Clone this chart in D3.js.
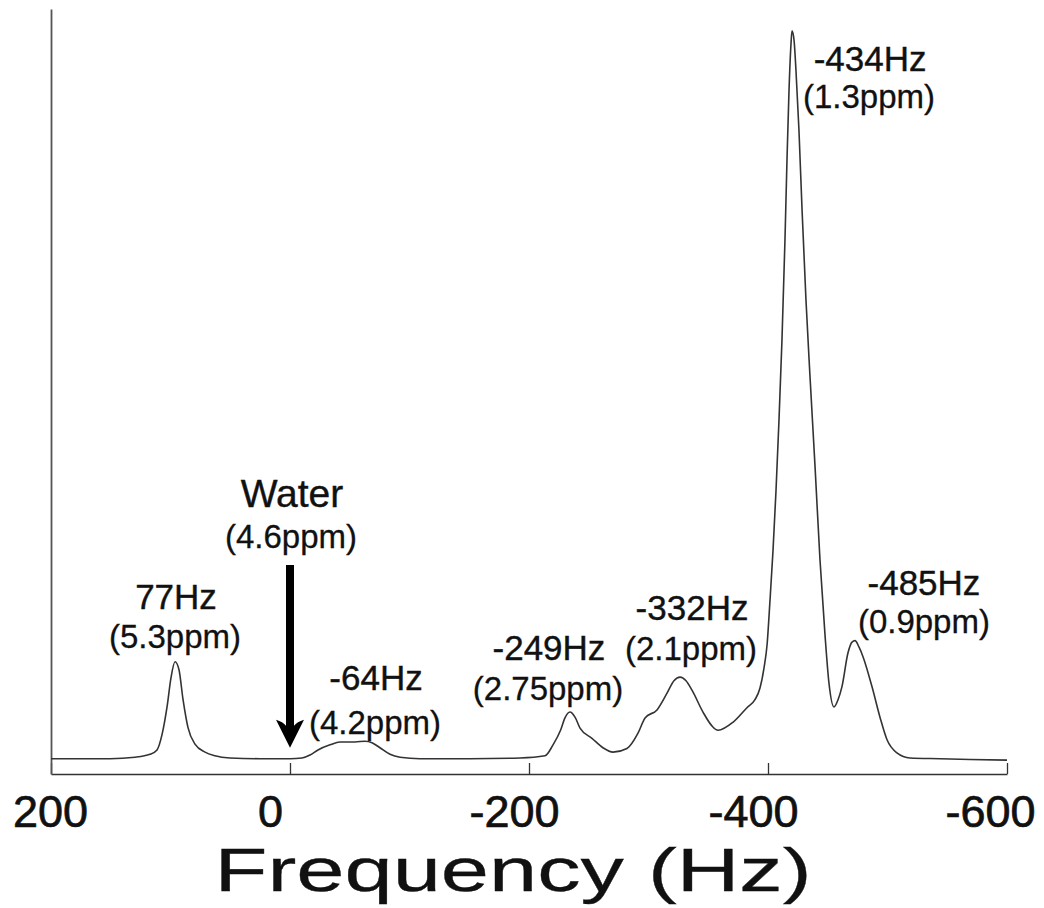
<!DOCTYPE html>
<html>
<head>
<meta charset="utf-8">
<script src="https://cdn.jsdelivr.net/npm/d3@7"></script>
<style>
  body { margin: 0; background: #fff; }
  svg { display: block; font-family: "Liberation Sans", Arial, sans-serif; }
</style>
</head>
<body>
<svg></svg>
<script>
// spectrum: frequency (Hz) and intensity (arbitrary, tallest peak = 100)
let freqHz = [200, 175.7, 150.6, 129.7, 117.2, 111.3, 107.1, 102.9, 99.6, 96.2,
  92.9, 89.5, 85.4, 79.5, 71.1, 62.8, 50.2, 25.1, 0, -10,
  -16.7, -23.4, -33.5, -41.8, -54.4, -62.8, -68.6, -75.3, -83.7, -92.1,
  -108.8, -150.6, -192.5, -213.4, -220.1, -226.4, -230.1, -234.3, -238.5, -242.7,
  -252.7, -261.9, -270.3, -282, -291.2, -297.1, -307.1, -315.5, -321.3, -326.4,
  -331.4, -336.4, -345.6, -353.1, -358.2, -370.7, -382.4, -389.1, -393.3, -396.7,
  -399.2, -401.7, -404.2, -406.7, -409.2, -411.7, -414.2, -415.9, -417.6, -419.2,
  -420.1, -421.8, -423.4, -425.9, -428.5, -431.8, -435.1, -439.3, -443.5, -447.7,
  -451, -455.2, -458.6, -461.9, -466.9, -470.3, -472.8, -476.2, -479.5, -487,
  -493.7, -499.6, -507.9, -518.8, -543.9, -569, -600];
let intensity = [0.1, 0.1, 0.1, 0.3, 0.7, 1.3, 3.4, 7.2, 11.2, 13.4,
  12.3, 8.2, 4.4, 2.1, 1.0, 0.5, 0.2, 0.1, 0.1, 0.2,
  0.6, 1.3, 2.0, 2.4, 2.4, 2.5, 2.3, 1.6, 0.7, 0.3,
  0.1, 0.1, 0.2, 0.5, 2.0, 4.0, 5.7, 6.5, 5.8, 4.3,
  2.9, 1.6, 1.0, 1.5, 3.6, 5.7, 6.8, 9.1, 10.8, 11.3,
  10.8, 9.5, 6.5, 4.6, 4.0, 5.1, 7.1, 8.2, 9.8, 12.6,
  15.7, 21.9, 28.7, 36.9, 46.6, 57.6, 71.3, 82.3, 91.9, 98.1,
  100, 98.7, 94.6, 86.4, 75.4, 63.0, 52.7, 40.4, 27.4, 17.1,
  10.5, 7.2, 8.2, 10.0, 14.6, 16.1, 16.3, 15.4, 14.1, 10.0,
  5.8, 2.7, 0.9, 0.2, 0.1, 0, -0.1];

let tickValues = [200, 0, -200, -400, -600];
// the tick labels in the original sit a little left of their ticks
let tickLabelShift = [-1, -20, -15, -15, -17];

// peak annotations: text, position in Hz / intensity
let peakLabels = ["77Hz", "-64Hz", "-249Hz", "-332Hz", "-434Hz", "-485Hz"];
let peakLabelHz = [95.4, -72, -216.7, -336.4, -485.4, -530.5];
let peakLabelI = [20.6, 9.5, 13.6, 19.1, 94.5, 22.6];
let ppmLabels = ["(5.3ppm)", "(4.2ppm)", "(2.75ppm)", "(2.1ppm)", "(1.3ppm)", "(0.9ppm)"];
let ppmLabelHz = [96.2, -71.1, -215.9, -335.6, -484.5, -530.5];
let ppmLabelI = [15.3, 3.5, 8.2, 13.6, 89.4, 17.4];

// water marker
let waterHz = 0;
let waterArrowI = [26.7, 1.6]; // top, tip

let width = 1044, height = 908;

let svg = d3.select("svg")
  .attr("width", width)
  .attr("height", height);

let x = d3.scaleLinear().domain([200, -600]).range([51, 1007]);
let y = d3.scaleLinear().domain([-2, 103]).range([774, 9]);

// axes
let xAxis = svg.append("g")
  .attr("transform", "translate(0," + y(-2) + ")")
  .call(d3.axisBottom(x)
    .tickValues(tickValues)
    .tickSizeInner(-11)
    .tickSizeOuter(0)
    .tickPadding(21));
xAxis.select(".domain").attr("stroke", "#333").attr("stroke-width", 1.5);
xAxis.selectAll(".tick line").attr("stroke", "#333").attr("stroke-width", 1.3);
xAxis.selectAll(".tick text")
  .text(d => String(d)) // plain hyphen, as in the original
  .attr("dx", (d, i) => tickLabelShift[i])
  .attr("fill", "#111")
  .attr("stroke", "#111")
  .attr("stroke-width", 0.7)
  .style("font-size", "45px")
  .style("font-family", "'Liberation Sans', Arial, sans-serif");

let yAxis = svg.append("g")
  .attr("transform", "translate(" + x(200) + ",0)")
  .call(d3.axisLeft(y).tickValues([]).tickSizeOuter(0));
yAxis.select(".domain").attr("stroke", "#555").attr("stroke-width", 1.8);

svg.append("text")
  .attr("x", 513)
  .attr("y", 891)
  .attr("text-anchor", "middle")
  .attr("textLength", 597)
  .attr("lengthAdjust", "spacingAndGlyphs")
  .attr("fill", "#111")
  .attr("stroke", "#111")
  .attr("stroke-width", 0.3)
  .style("font-size", "62px")
  .text("Frequency (Hz)");

// spectrum
let points = freqHz.map((f, i) => [f, intensity[i]]);
let line = d3.line()
  .x(d => x(d[0]))
  .y(d => y(d[1]))
  .curve(d3.curveMonotoneX);

svg.append("path")
  .datum(points)
  .attr("d", line)
  .attr("fill", "none")
  .attr("stroke", "#333")
  .attr("stroke-width", 1.6)
  .attr("stroke-linejoin", "round");

// labels
svg.selectAll(".hz-label")
  .data(peakLabels)
  .enter()
  .append("text")
  .attr("class", "hz-label")
  .attr("x", (d, i) => x(peakLabelHz[i]))
  .attr("y", (d, i) => y(peakLabelI[i]))
  .attr("text-anchor", "middle")
  .attr("fill", "#111")
  .attr("stroke", "#111")
  .attr("stroke-width", 0.4)
  .style("font-size", "35px")
  .text(d => d);

svg.selectAll(".ppm-label")
  .data(ppmLabels)
  .enter()
  .append("text")
  .attr("class", "ppm-label")
  .attr("x", (d, i) => x(ppmLabelHz[i]))
  .attr("y", (d, i) => y(ppmLabelI[i]))
  .attr("text-anchor", "middle")
  .attr("fill", "#111")
  .attr("stroke", "#111")
  .attr("stroke-width", 0.3)
  .style("font-size", "33px")
  .text(d => d);

svg.append("text")
  .attr("x", x(-1.7))
  .attr("y", y(34.6))
  .attr("text-anchor", "middle")
  .attr("fill", "#111")
  .attr("stroke", "#111")
  .attr("stroke-width", 0.4)
  .style("font-size", "39px")
  .text("Water");
svg.append("text")
  .attr("x", x(-0.8))
  .attr("y", y(29.0))
  .attr("text-anchor", "middle")
  .attr("fill", "#111")
  .attr("stroke", "#111")
  .attr("stroke-width", 0.3)
  .style("font-size", "33px")
  .text("(4.6ppm)");

// arrow
let ax = x(waterHz), aTop = y(waterArrowI[0]), aTip = y(waterArrowI[1]);
let shaft = 4, barb = 14, headLen = 28;
let arrow = d3.path();
arrow.moveTo(ax - shaft, aTop);
arrow.lineTo(ax - shaft, aTip - headLen + 6);
arrow.quadraticCurveTo(ax - barb * 0.5, aTip - headLen + 2, ax - barb, aTip - headLen);
arrow.lineTo(ax, aTip);
arrow.lineTo(ax + barb, aTip - headLen);
arrow.quadraticCurveTo(ax + barb * 0.5, aTip - headLen + 2, ax + shaft, aTip - headLen + 6);
arrow.lineTo(ax + shaft, aTop);
arrow.closePath();
svg.append("path")
  .attr("d", arrow.toString())
  .attr("fill", "#000");
</script>
</body>
</html>
